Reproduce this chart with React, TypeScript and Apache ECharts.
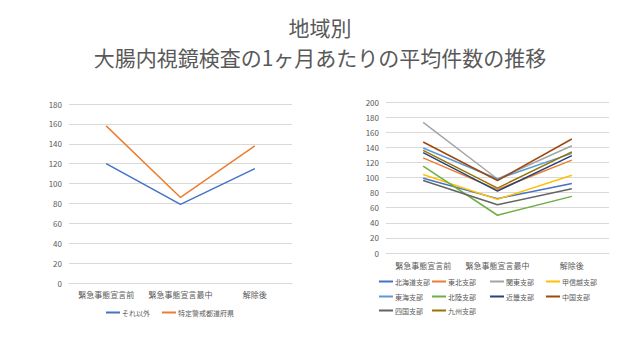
import React, { useEffect, useRef } from "react";
import * as echarts from "echarts";

const categories = ["緊急事態宣言前", "緊急事態宣言最中", "解除後"];

const leftNames = ["それ以外", "特定警戒都道府県"];
const leftValues = [
  [120, 79, 115],
  [158, 86, 138],
];
const leftColors = ["#4472C4", "#ED7D31"];
const leftTicks = { min: 0, max: 180, interval: 20 };

const rightNames = [
  "北海道支部", "東北支部", "関東支部", "甲信越支部", "東海支部",
  "北陸支部", "近畿支部", "中国支部", "四国支部", "九州支部",
];
const hokkaido = [99, 72, 92];
const tohoku = [126, 84, 123];
const kanto = [173, 98, 142];
const koshinetsu = [104, 71, 103];
const tokai = [139, 98, 132];
const hokuriku = [115, 50, 75];
const kinki = [133, 82, 129];
const chugoku = [147, 96, 151];
const shikoku = [96, 64, 85];
const kyushu = [136, 86, 134];
const rightValues = [hokkaido, tohoku, kanto, koshinetsu, tokai, hokuriku, kinki, chugoku, shikoku, kyushu];
const rightColors = [
  "#4472C4", "#ED7D31", "#A5A5A5", "#FFC000", "#5B9BD5",
  "#70AD47", "#264478", "#9E480E", "#636363", "#997300",
];
const rightTicks = { min: 0, max: 200, interval: 20 };

const titleLines = ["地域別", "大腸内視鏡検査の1ヶ月あたりの平均件数の推移"];

const FONT = "Noto Sans CJK JP";
const GREY = "#595959";

export default function App() {
  const ref = useRef<HTMLDivElement>(null);
  useEffect(() => {
    if (!ref.current) return;
    const chart = echarts.init(ref.current, undefined, { renderer: "svg" });

    const axisLabel = { color: GREY, fontSize: 8, fontFamily: FONT, interval: 0 };
    const catAxis = (gi: number, margin: number) => ({
      type: "category",
      gridIndex: gi,
      data: categories,
      boundaryGap: true,
      axisLine: { show: true, lineStyle: { color: "#d9d9d9" } },
      axisTick: { show: false },
      axisLabel: { ...axisLabel, margin },
    });
    const valAxis = (gi: number, t: any) => ({
      type: "value",
      gridIndex: gi,
      min: t.min,
      max: t.max,
      interval: t.interval,
      axisLine: { show: false },
      axisTick: { show: false },
      axisLabel: { ...axisLabel, margin: 7 },
      splitLine: { lineStyle: { color: "#d9d9d9", width: 1 } },
    });

    const colX = [379, 432, 490, 546];
    const rowY = [278, 293, 307];
    const rightLegends = rightNames.map((n, i) => ({
      data: [n],
      left: colX[i % 4],
      top: rowY[Math.floor(i / 4)],
      itemWidth: 14,
      itemHeight: 2,
      icon: "rect",
      padding: 0,
      itemGap: 0,
      textStyle: { color: GREY, fontSize: 7, fontFamily: FONT, padding: [0, 0, 0, -3] },
    }));

    const series: any[] = [];
    leftNames.forEach((n, i) =>
      series.push({
        name: n,
        type: "line",
        xAxisIndex: 0,
        yAxisIndex: 0,
        data: leftValues[i],
        symbol: "none",
        lineStyle: { width: 1.5, color: leftColors[i] },
        itemStyle: { color: leftColors[i] },
      })
    );
    rightNames.forEach((n, i) =>
      series.push({
        name: n,
        type: "line",
        xAxisIndex: 1,
        yAxisIndex: 1,
        data: rightValues[i],
        symbol: "none",
        lineStyle: { width: 1.5, color: rightColors[i] },
        itemStyle: { color: rightColors[i] },
      })
    );

    const titleY = [26.5, 57];
    chart.setOption({
      animation: false,
      backgroundColor: "#ffffff",
      graphic: titleLines.map((t, i) => ({
        type: "text",
        x: 320,
        y: titleY[i],
        style: {
          text: t,
          fill: GREY,
          font: `normal 21px "${FONT}"`,
          textAlign: "center",
          textVerticalAlign: "middle",
        },
      })),
      grid: [
        { left: 69, right: 348, top: 104, bottom: 77 },
        { left: 386, right: 31, top: 102, bottom: 107 },
      ],
      xAxis: [catAxis(0, 7), catAxis(1, 8)],
      yAxis: [valAxis(0, leftTicks), valAxis(1, rightTicks)],
      legend: [
        {
          data: leftNames,
          left: 106,
          top: 309,
          itemWidth: 14,
          itemHeight: 2,
          icon: "rect",
          itemGap: 12,
          padding: 0,
          textStyle: { color: GREY, fontSize: 7, fontFamily: FONT, padding: [0, 0, 0, -3] },
        },
        ...rightLegends,
      ],
      series,
    });
    return () => chart.dispose();
  }, []);
  return <div ref={ref} style={{ width: 640, height: 360, position: "fixed", left: 0, top: 0 }} />;
}
